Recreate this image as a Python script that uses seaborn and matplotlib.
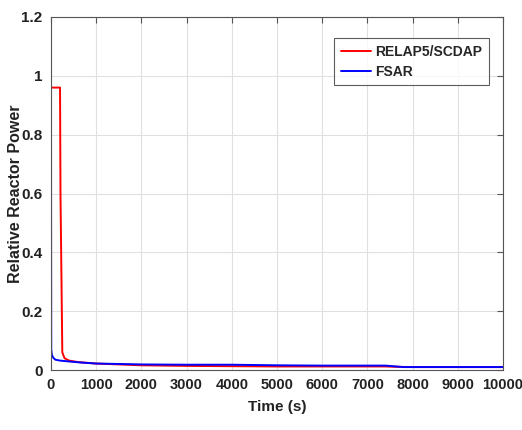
import numpy as np
import pandas as pd
import matplotlib
matplotlib.use("Agg")
import matplotlib.pyplot as plt
import seaborn as sns

# Data
relap_t = [0, 1, 5, 200, 210, 250, 300, 400, 600, 1000, 2000, 3000, 4000, 5000, 6000, 7000, 7400, 7600, 8000, 9000, 10000]
relap_p = [1.02, 0.96, 0.96, 0.96, 0.6, 0.06, 0.04, 0.032, 0.027, 0.022, 0.016, 0.014, 0.013, 0.012, 0.012, 0.012, 0.012, 0.011, 0.010, 0.010, 0.010]

fsar_t = [0, 2, 5, 20, 60, 100, 200, 400, 700, 1000, 2000, 3000, 4000, 5000, 6000, 7000, 7400, 7800, 8000, 9000, 10000]
fsar_p = [0.96, 0.5, 0.07, 0.05, 0.04, 0.035, 0.032, 0.029, 0.025, 0.022, 0.019, 0.018, 0.018, 0.016, 0.015, 0.015, 0.015, 0.010, 0.010, 0.010, 0.010]

x_ticks = [0, 1000, 2000, 3000, 4000, 5000, 6000, 7000, 8000, 9000, 10000]
y_ticks = [0, 0.2, 0.4, 0.6, 0.8, 1.0, 1.2]
y_labels = ["0", "0.2", "0.4", "0.6", "0.8", "1", "1.2"]

df = pd.concat([
    pd.DataFrame({"Time": relap_t, "Power": relap_p, "Code": "RELAP5/SCDAP"}),
    pd.DataFrame({"Time": fsar_t, "Power": fsar_p, "Code": "FSAR"}),
], ignore_index=True)

sns.set_style("white")
plt.rcParams["font.family"] = ["Liberation Sans", "DejaVu Sans"]
plt.rcParams["font.weight"] = "bold"

fig = plt.figure(figsize=(5.22, 4.30), dpi=100)
ax = fig.add_axes([0.0977, 0.1395, 0.8659, 0.821])

sns.lineplot(data=df, x="Time", y="Power", hue="Code", sort=False,
             palette={"RELAP5/SCDAP": "#ff0000", "FSAR": "#0000ff"},
             linewidth=1.4, ax=ax, estimator=None)

ax.set_xlim(0, 10000)
ax.set_ylim(0, 1.2)
ax.set_xticks(x_ticks)
ax.set_xticklabels([str(v) for v in x_ticks], fontsize=10.5, fontweight="bold", color="#222222")
ax.set_yticks(y_ticks)
ax.set_yticklabels(y_labels, fontsize=11, fontweight="bold", color="#222222")
ax.set_xlabel("Time (s)", fontsize=11, fontweight="bold", color="#222222")
ax.set_ylabel("Relative Reactor Power", fontsize=11.5, fontweight="bold", color="#222222")
ax.xaxis.set_label_coords(0.5, -0.085)
ax.yaxis.set_label_coords(-0.062, 0.5)

ax.grid(True, color="#e0e0e0", linewidth=0.8)
ax.tick_params(direction="in", top=True, right=True, length=4, color="#555555", pad=6)
for s in ax.spines.values():
    s.set_color("#555555")
    s.set_linewidth(0.8)

leg = ax.legend(loc="upper right", bbox_to_anchor=(0.985, 0.96), fontsize=10,
                frameon=True, fancybox=False, edgecolor="#333333",
                handlelength=2.2, borderpad=0.5, labelspacing=0.4, handletextpad=0.3)
leg.get_frame().set_linewidth(0.8)
for t in leg.get_texts():
    t.set_fontweight("bold")

fig.savefig("out.png", dpi=100)
